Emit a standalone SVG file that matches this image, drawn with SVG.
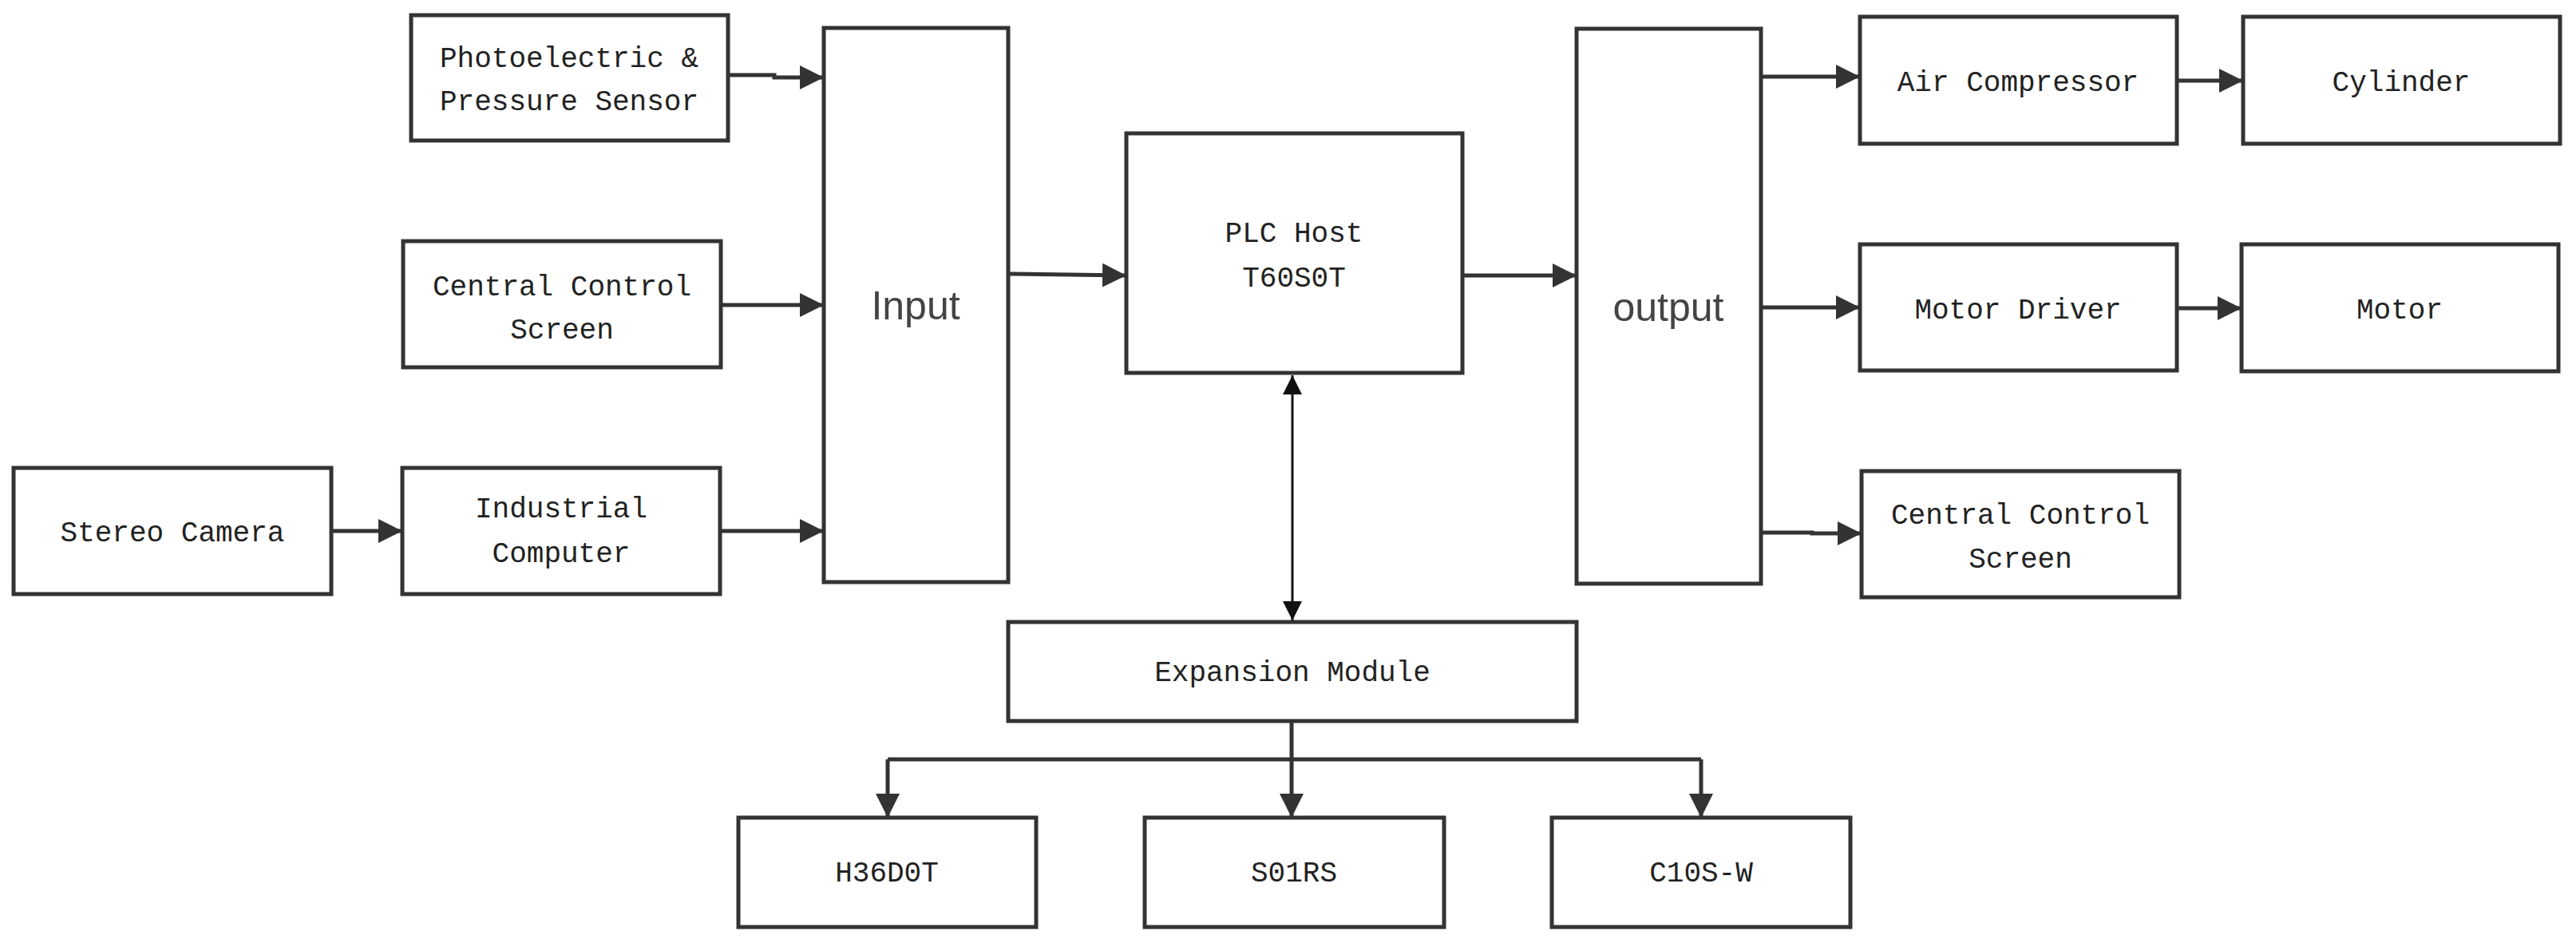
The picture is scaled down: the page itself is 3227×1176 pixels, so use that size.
<svg xmlns="http://www.w3.org/2000/svg" width="3227" height="1176" viewBox="0 0 3227 1176">
<style>
rect{fill:#fff;stroke:#333;stroke-width:5}
text{font-family:"Liberation Mono",monospace;font-size:36px;fill:#222;text-anchor:middle}
.big{font-family:"Liberation Sans",Arial,sans-serif;font-size:50px;fill:#444}
.c line,.c path{stroke:#333;stroke-width:5;fill:none}
.c .thin{stroke:#111;stroke-width:3}
</style>
<defs>
<marker id="a" viewBox="0 0 10 10" refX="10" refY="5" markerWidth="6" markerHeight="6" orient="auto" markerUnits="strokeWidth"><path d="M0,0L10,5L0,10z" fill="#333"/></marker>
<marker id="b" viewBox="0 0 10 10" refX="10" refY="5" markerWidth="8" markerHeight="8" orient="auto-start-reverse" markerUnits="strokeWidth"><path d="M0,0L10,5L0,10z" fill="#111"/></marker>
</defs>
<g id="photo"><rect x="515" y="19" width="397" height="157"/><text x="713" y="84">Photoelectric &amp;</text><text x="713" y="138">Pressure Sensor</text></g>
<g id="ccs-in"><rect x="505" y="302" width="398" height="158"/><text x="704" y="370">Central Control</text><text x="704" y="424">Screen</text></g>
<g id="stereo"><rect x="17" y="586" width="398" height="158"/><text x="216" y="678">Stereo Camera</text></g>
<g id="ipc"><rect x="504" y="586" width="398" height="158"/><text x="703" y="648">Industrial</text><text x="703" y="704">Computer</text></g>
<g id="input"><rect x="1032" y="35" width="231" height="694"/><text class="big" x="1147" y="400">Input</text></g>
<g id="plc"><rect x="1411" y="167" width="421" height="300"/><text x="1621" y="303">PLC Host</text><text x="1621" y="359">T60S0T</text></g>
<g id="output"><rect x="1975" y="36" width="231" height="695"/><text class="big" x="2090" y="402">output</text></g>
<g id="air"><rect x="2330" y="21" width="397" height="159"/><text x="2528" y="114">Air Compressor</text></g>
<g id="cyl"><rect x="2810" y="21" width="397" height="159"/><text x="3008" y="114">Cylinder</text></g>
<g id="mdrv"><rect x="2330" y="306" width="397" height="158"/><text x="2528" y="399">Motor Driver</text></g>
<g id="motor"><rect x="2808" y="306" width="397" height="159"/><text x="3006" y="399">Motor</text></g>
<g id="ccs-out"><rect x="2332" y="590" width="398" height="158"/><text x="2531" y="656">Central Control</text><text x="2531" y="711">Screen</text></g>
<g id="exp"><rect x="1263" y="779" width="712" height="124"/><text x="1619" y="853">Expansion Module</text></g>
<g id="h36"><rect x="925" y="1024" width="373" height="137"/><text x="1111" y="1104">H36D0T</text></g>
<g id="s01"><rect x="1434" y="1024" width="375" height="137"/><text x="1621" y="1104">S01RS</text></g>
<g id="c10"><rect x="1944" y="1024" width="374" height="137"/><text x="2131" y="1104">C10S-W</text></g>
<g class="c">
<path d="M912,94H970V97H1032" marker-end="url(#a)"/>
<line x1="903" y1="382" x2="1032" y2="382" marker-end="url(#a)"/>
<line x1="415" y1="665" x2="504" y2="665" marker-end="url(#a)"/>
<line x1="902" y1="665" x2="1032" y2="665" marker-end="url(#a)"/>
<line x1="1263" y1="343" x2="1411" y2="345" marker-end="url(#a)"/>
<line x1="1832" y1="345" x2="1975" y2="345" marker-end="url(#a)"/>
<line x1="2206" y1="96" x2="2330" y2="96" marker-end="url(#a)"/>
<line x1="2206" y1="385" x2="2330" y2="385" marker-end="url(#a)"/>
<path d="M2206,667H2270V668H2332" marker-end="url(#a)"/>
<line x1="2727" y1="101" x2="2810" y2="101" marker-end="url(#a)"/>
<line x1="2727" y1="386" x2="2808" y2="386" marker-end="url(#a)"/>
<line class="thin" x1="1619" y1="470" x2="1619" y2="777" marker-start="url(#b)" marker-end="url(#b)"/>
<line x1="1618" y1="903" x2="1618" y2="951"/>
<path d="M1112,951H2131"/>
<line x1="1112" y1="951" x2="1112" y2="1024" marker-end="url(#a)"/>
<line x1="1618" y1="951" x2="1618" y2="1024" marker-end="url(#a)"/>
<line x1="2131" y1="951" x2="2131" y2="1024" marker-end="url(#a)"/>
</g>
</svg>
